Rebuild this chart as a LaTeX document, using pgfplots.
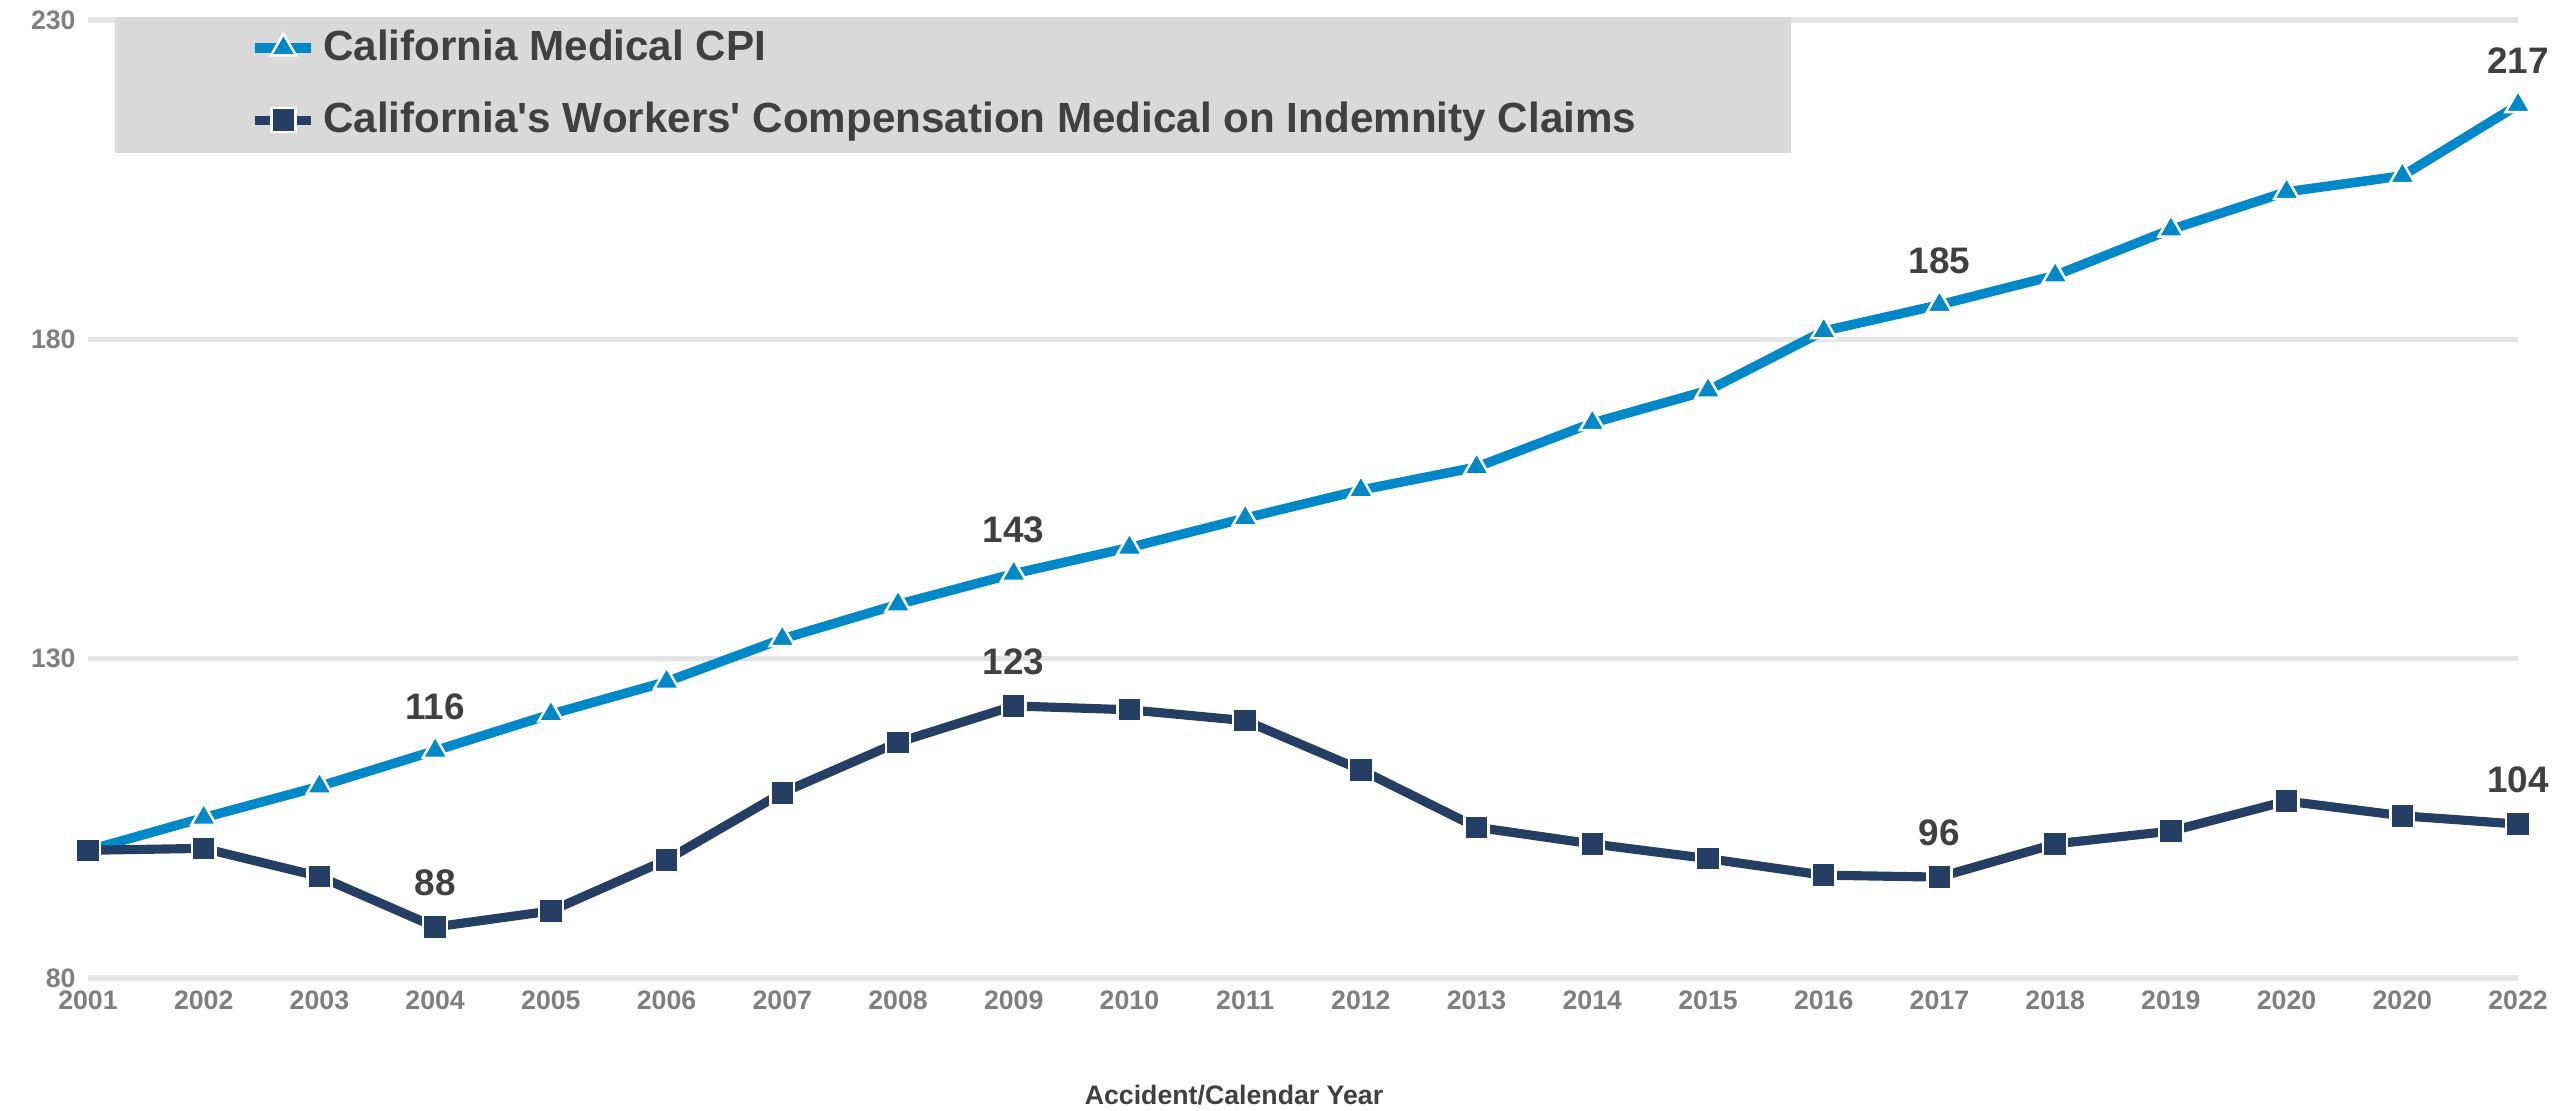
\documentclass[border=0pt]{standalone}
\usepackage{pgfplots}
\pgfplotsset{compat=1.18}
\usepackage{fontspec}
\setmainfont{Liberation Sans}

\definecolor{cpiblue}{HTML}{0088C8}
\definecolor{wcnavy}{HTML}{243F63}
\definecolor{gridgray}{HTML}{E4E4E4}
\definecolor{boxgray}{HTML}{D9D9D9}
\definecolor{ticktxt}{HTML}{7F7F7F}
\definecolor{darktxt}{HTML}{404040}

\begin{document}
\begin{tikzpicture}
\useasboundingbox (-0.88,-1.32) rectangle (24.81,9.78);
\begin{axis}[at={(0,0)}, anchor=south west,
  width=24.3cm, height=9.58cm, scale only axis,
  xmin=0, xmax=21, ymin=80, ymax=230,
  ytick={80,130,180,230},
  xtick={0,...,21},
  xticklabels={2001,2002,2003,2004,2005,2006,2007,2008,2009,2010,2011,
    2012,2013,2014,2015,2016,2017,2018,2019,2020,2020,2022},
  axis line style={draw=none}, major tick length=0pt,
  ymajorgrids, grid style={gridgray, line width=1.5pt},
  /pgf/number format/assume math mode=true,
  tick label style={font=\fontsize{7.6}{9}\selectfont\bfseries, text=ticktxt},
  xlabel={Accident/Calendar Year},
  xlabel style={at={(axis description cs:0.4716,0)}, anchor=north, yshift=-0.95cm,
    font=\fontsize{7.6}{9}\selectfont\bfseries, text=darktxt},
  clip=false,
  legend cell align=left,
  legend style={at={(axis cs:1.4,229.6)}, anchor=north west, fill=none, draw=none,
    font=\fontsize{12}{14}\selectfont\bfseries, text=darktxt,
    inner sep=0pt, row sep=0.22cm},
  legend image code/.code={
    \draw[#1, mark=none] (0cm,0cm) -- (0.56cm,0cm);
    \draw[#1, draw=none] plot coordinates {(0.28cm,0cm)};},
]
\fill[boxgray] (axis cs:0.23,230.5) rectangle (axis cs:14.72,209.2);

\addplot[cpiblue, line width=2.7pt, mark=triangle*, mark size=4.1pt,
  mark options={fill=cpiblue, draw=white, line width=0.7pt}]
  coordinates {(0,100)(1,105.1)(2,110)(3,115.6)(4,121.3)(5,126.4)(6,133.1)
    (7,138.5)(8,143.3)(9,147.4)(10,152)(11,156.4)(12,160)(13,166.9)(14,172)
    (15,181.3)(16,185.4)(17,190)(18,197.2)(19,203.1)(20,205.6)(21,216.7)};
\addlegendentry{California Medical CPI}

\addplot[wcnavy, line width=2.6pt, mark=square*, mark size=3.4pt,
  mark options={fill=wcnavy, draw=white, line width=0.7pt}]
  coordinates {(0,100)(1,100.3)(2,95.9)(3,88)(4,90.5)(5,98.5)(6,109)
    (7,116.9)(8,122.6)(9,122)(10,120.3)(11,112.6)(12,103.6)(13,101)(14,98.7)
    (15,96.1)(16,95.8)(17,101)(18,103)(19,107.7)(20,105.4)(21,104.1)};
\addlegendentry{California\textquotesingle s Workers\textquotesingle\ Compensation Medical on Indemnity Claims}

\addplot[draw=none, mark=none, forget plot, point meta=explicit symbolic,
  nodes near coords, nodes near coords style={anchor=center, yshift=0.44cm,
    font=\fontsize{10.5}{12}\selectfont\bfseries, text=darktxt}]
  coordinates {(3,115.6)[116] (8,143.3)[143] (16,185.4)[185] (21,216.7)[217]
    (3,88)[88] (8,122.6)[123] (16,95.8)[96] (21,104.1)[104]};
\end{axis}
\end{tikzpicture}
\end{document}
